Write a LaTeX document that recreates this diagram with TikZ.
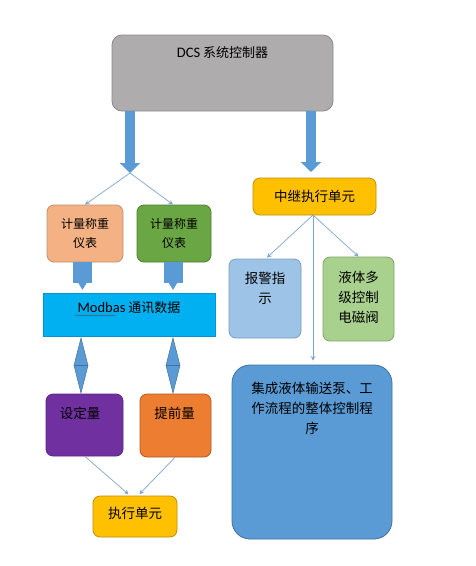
\documentclass[tikz,border=0pt]{standalone}
\usepackage{fontspec}
\setmainfont{Noto Sans CJK SC}
\newfontfamily\lat{Carlito}
\usetikzlibrary{arrows.meta,calc,decorations.pathmorphing}
\definecolor{cDCS}{HTML}{AEACAD}\definecolor{cDCSb}{HTML}{8A8A8A}
\definecolor{cPeach}{HTML}{F4B183}\definecolor{cPeachb}{HTML}{C0916F}
\definecolor{cGreen}{HTML}{6BA644}\definecolor{cGreenb}{HTML}{507E32}
\definecolor{cCyan}{HTML}{00B0F0}\definecolor{cCyanb}{HTML}{0096CC}
\definecolor{cYel}{HTML}{FFC000}\definecolor{cYelb}{HTML}{BF9000}
\definecolor{cLBlue}{HTML}{9DC3E6}\definecolor{cLBlueb}{HTML}{7A9CC0}
\definecolor{cLGreen}{HTML}{A9D18E}\definecolor{cLGreenb}{HTML}{82A46A}
\definecolor{cBlue}{HTML}{5B9BD5}\definecolor{cBlueb}{HTML}{41719C}
\definecolor{cPurple}{HTML}{7030A0}\definecolor{cPurpleb}{HTML}{5A2680}
\definecolor{cOrange}{HTML}{ED7D31}\definecolor{cOrangeb}{HTML}{AE5A21}
\definecolor{cLine}{HTML}{7FA6D0}
\definecolor{cWave}{HTML}{5A5A70}
\begin{document}
\begin{tikzpicture}[x=1pt,y=-1pt,
  box/.style={rounded corners=7pt, line width=0.8pt, inner sep=0pt},
  txt/.style={font=\fontsize{13.5}{20}\selectfont, align=center, inner sep=0pt, text=black},
  stxt/.style={font=\fontsize{12}{19}\selectfont, align=center, inner sep=0pt, text=black},
  conn/.style={draw=cLine, line width=0.7pt, -{Stealth[length=4.5pt,width=4.5pt]}},
  bigarr/.style={draw=cBlue, line width=10pt, -{Triangle[width=20pt,length=10pt]}},
  smallarr/.style={draw=cBlue, line width=19pt, -{Triangle[width=9pt,length=8pt]}},
  dia/.style={fill=cBlue, draw=cBlueb, line width=0.5pt}
]
\useasboundingbox (0,0) rectangle (476,566);
\fill[white] (0,0) rectangle (476,566);

% boxes
\node[box, fill=cDCS, draw=cDCSb, rounded corners=10pt, minimum width=221pt, minimum height=76pt] (dcs) at (222.5,73) {};
\node[stxt, font=\fontsize{13}{19}\selectfont] (dcst) at (222.5,53) {{\lat\fontsize{14.5}{16}\selectfont DCS} 系统控制器};

\node[box, fill=cPeach, draw=cPeachb, minimum width=76pt, minimum height=57pt] (m1) at (85,233.5) {};
\node[stxt] (m1t) at (85,233.5) {计量称重\\仪表};
\node[box, fill=cGreen, draw=cGreenb, minimum width=74pt, minimum height=57pt] (m2) at (174,233.5) {};
\node[stxt] (m2t) at (174,233.5) {计量称重\\仪表};

\node[box, rounded corners=0pt, fill=cCyan, draw=cCyanb, line width=0.5pt, minimum width=172pt, minimum height=43pt] (modbas) at (129,314.5) {};
\node[txt, font=\fontsize{13}{18}\selectfont] (modbast) at (129,308) {{\lat\fontsize{14.5}{16}\selectfont Modbas} 通讯数据};

\node[box, fill=cYel, draw=cYelb, minimum width=123pt, minimum height=37pt] (rel) at (314.5,196.5) {};
\node[txt] (relt) at (314.5,196) {中继执行单元};

\node[box, fill=cLBlue, draw=cLBlueb, minimum width=72pt, minimum height=79pt] (alarm) at (265,298.5) {};
\node[txt] (alarmt) at (265,288) {报警指\\示};

\node[box, fill=cLGreen, draw=cLGreenb, minimum width=71pt, minimum height=84pt] (valve) at (358.5,299) {};
\node[txt] (valvet) at (358.5,297) {液体多\\级控制\\电磁阀};

\node[box, fill=cBlue, draw=cBlueb, rounded corners=18pt, minimum width=160pt, minimum height=174pt] (prog) at (312,452) {};
\node[txt] (progt) at (312,408) {集成液体输送泵、工\\作流程的整体控制程\\序};

\node[box, fill=cPurple, draw=cPurpleb, minimum width=77pt, minimum height=62pt] (set) at (84.5,425) {};
\node[txt] (sett) at (80,413) {设定量};
\node[box, fill=cOrange, draw=cOrangeb, minimum width=71pt, minimum height=63pt] (adv) at (175.5,425.5) {};
\node[txt] (advt) at (174.5,413) {提前量};

\node[box, fill=cYel, draw=cYelb, minimum width=84pt, minimum height=41pt] (exec) at (135,516.5) {};
\node[txt] (exect) at (135,513) {执行单元};

% wavy underline
\coordinate (wv1) at (75,315.5);
\coordinate (wv2) at (115,315.5);
\draw[draw=cWave, line width=0.5pt, decorate, decoration={snake, amplitude=0.6pt, segment length=2.5pt}] (wv1) -- (wv2);

% big arrows
\coordinate (br) at (130,173);
\coordinate (rt) at (311,172);
\draw[bigarr] (dcs.south -| br) -- (br);
\draw[bigarr] (dcs.south -| rt) -- (rt);

% thin arrows from branch
\draw[conn] (br) -- (m1.north);
\draw[conn] (br) -- ($(m2.north)+(-1,0)$);

% small arrows meters -> modbas
\coordinate (sa1) at (82.5,290);
\coordinate (sa2) at (173,290);
\draw[smallarr] (m1.south -| sa1) -- (sa1);
\draw[smallarr] (m2.south -| sa2) -- (sa2);

% double diamonds
\foreach \x/\n in {81/a,173/b}{
  \coordinate (dt\n) at (\x,338);
  \coordinate (db\n) at (\x,393);
  \filldraw[dia] (dt\n) -- ($(dt\n)!0.5!(db\n)+(7,0)$) -- (db\n) -- ($(dt\n)!0.5!(db\n)+(-7,0)$) -- cycle;
  \draw[draw=cBlueb, line width=0.5pt] ($(dt\n)!0.5!(db\n)+(-7,0)$) -- ($(dt\n)!0.5!(db\n)+(7,0)$);
}

% relay fan-out
\coordinate (rs) at (313,215);
\draw[conn] (rs) -- ($(alarm.north)+(2,-1)$);
\draw[conn] (rs) -- (valve.north);
\draw[conn, shorten >=4pt] (rs) -- (prog.north -| rs);

% to exec
\draw[conn, shorten >=2pt] ($(set.south)+(0.5,0)$) -- ($(exec.north)+(-5,0)$);
\draw[conn, shorten >=2pt] ($(adv.south)+(-0.5,0)$) -- ($(exec.north)+(3,0)$);
\end{tikzpicture}
\end{document}
